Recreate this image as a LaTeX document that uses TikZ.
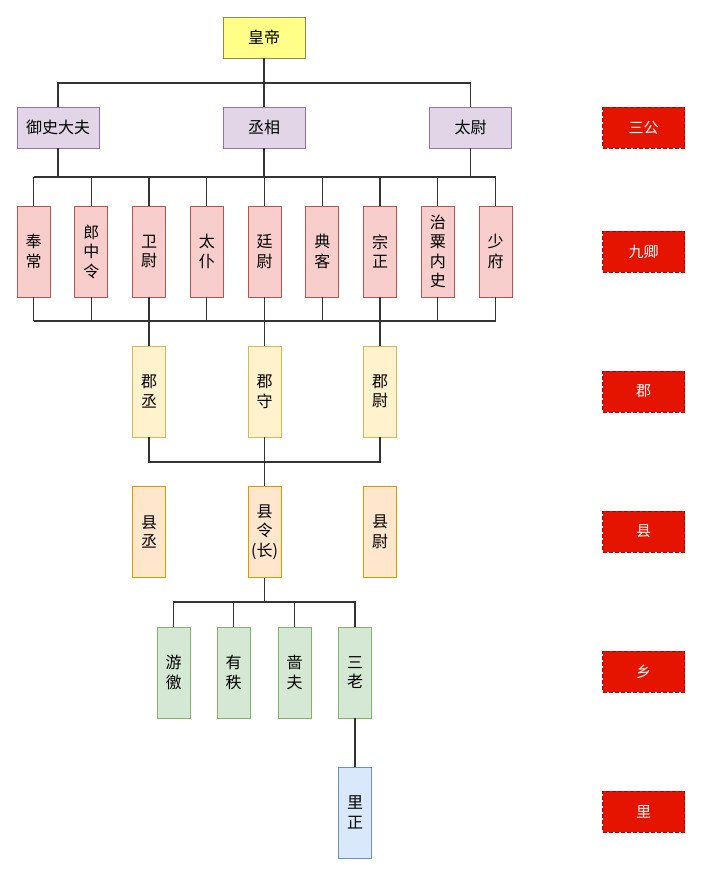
\documentclass[tikz,border=0pt]{standalone}
\usepackage{fontspec}
\setmainfont{Noto Sans CJK SC}
\usetikzlibrary{positioning}

\definecolor{empfill}{HTML}{FFFF88}
\definecolor{empdraw}{HTML}{8C8C50}
\definecolor{gongfill}{HTML}{E1D5E7}
\definecolor{gongdraw}{HTML}{9673A6}
\definecolor{qingfill}{HTML}{F8CECC}
\definecolor{qingdraw}{HTML}{B85450}
\definecolor{junfill}{HTML}{FFF2CC}
\definecolor{jundraw}{HTML}{D6B656}
\definecolor{xianfill}{HTML}{FFE6CC}
\definecolor{xiandraw}{HTML}{D79B00}
\definecolor{xiangfill}{HTML}{D5E8D4}
\definecolor{xiangdraw}{HTML}{82B366}
\definecolor{lifill}{HTML}{DAE8FC}
\definecolor{lidraw}{HTML}{6C8EBF}
\definecolor{lvlfill}{HTML}{E51400}
\definecolor{lvldraw}{HTML}{B20000}

\tikzset{
  box/.style={draw, line width=0.8pt, inner sep=0pt, align=center,
    font=\fontsize{16}{19.5}\selectfont},
  wide/.style={box, minimum width=82pt, minimum height=41pt},
  tall/.style={box, minimum width=33pt, minimum height=91pt},
  emp/.style={wide, fill=empfill, draw=empdraw},
  gong/.style={wide, fill=gongfill, draw=gongdraw},
  qing/.style={tall, fill=qingfill, draw=qingdraw},
  jun/.style={tall, fill=junfill, draw=jundraw},
  xian/.style={tall, fill=xianfill, draw=xiandraw},
  xiang/.style={tall, fill=xiangfill, draw=xiangdraw},
  li/.style={tall, fill=lifill, draw=lidraw},
  level/.style={wide, fill=lvlfill, draw=lvldraw, dash pattern=on 4pt off 2pt,
    text=white, font=\fontsize{15}{18}\selectfont},
  conn/.style={draw=black!80, line width=1.1pt}
}

\begin{document}
\begin{tikzpicture}[x=1pt, y=-1pt]
\useasboundingbox (0,0) rectangle (703,875);

% Emperor and the three excellencies
\node[emp] (hd) at (264,37.5) {皇帝};
\node[gong] (ysdf) at (58,127.5) {御史大夫};
\node[gong] (cx) at (264,127.5) {丞相};
\node[gong] (tw) at (470.5,127.5) {太尉};

% Nine ministers
\foreach \txt [count=\i] in {奉\\常, 郎\\中\\令, 卫\\尉, 太\\仆, 廷\\尉, 典\\客, 宗\\正, 治\\粟\\内\\史, 少\\府}
  \node[qing] (q\i) at ({33.5+57.75*(\i-1)},251.5) {\txt};

% Commandery
\node[jun] (jc) at (149,391.5) {郡\\丞};
\node[jun] (js) at (264.5,391.5) {郡\\守};
\node[jun] (jw) at (380,391.5) {郡\\尉};

% County
\node[xian] (xc) at (149,532) {县\\丞};
\node[xian] (xl) at (264.5,532) {县\\令\\(长)};
\node[xian] (xw) at (380,532) {县\\尉};

% Township
\node[xiang] (yj) at (173.5,672.5) {游\\徼};
\node[xiang] (yz) at (233.5,672.5) {有\\秩};
\node[xiang] (sf) at (294.5,672.5) {啬\\夫};
\node[xiang] (sl) at (355,672.5) {三\\老};

% Village
\node[li] (lz) at (355,812.5) {里\\正};

% Level labels
\foreach \txt/\y [count=\i] in {三公/127.5, 九卿/251.5, 郡/391.5, 县/531.5, 乡/671.5, 里/811.5}
  \node[level] (lv\i) at (643.5,\y) {\txt};

% Connectors
\coordinate (b1) at (264,83);
\draw[conn] (hd) -- (cx);
\draw[conn] (ysdf.north) |- (b1) -| (tw.north);

\coordinate (b2) at (0,177);
\coordinate (b3) at (0,321);
\draw[conn] (q1.north |- b2) -- (q9.north |- b2);
\draw[conn] (q1.south |- b3) -- (q9.south |- b3);
\foreach \i in {1,...,9} {
  \draw[conn] (q\i.north) -- (q\i.north |- b2);
  \draw[conn] (q\i.south) -- (q\i.south |- b3);
}
\draw[conn] (ysdf.south) -- (ysdf.south |- b2);
\draw[conn] (cx.south) -- (cx.south |- b2);
\draw[conn] (tw.south) -- (tw.south |- b2);

\draw[conn] (jc.north) -- (jc.north |- b3);
\draw[conn] (js.north) -- (js.north |- b3);
\draw[conn] (jw.north) -- (jw.north |- b3);

\coordinate (b4) at (264.5,462);
\draw[conn] (jc.south) |- (b4) -| (jw.south);
\draw[conn] (js) -- (xl);

\coordinate (b5) at (264.5,602);
\draw[conn] (xl) -- (b5);
\draw[conn] (yj.north) |- (b5) -| (sl.north);
\draw[conn] (yz.north) -- (yz.north |- b5);
\draw[conn] (sf.north) -- (sf.north |- b5);
\draw[conn] (sl) -- (lz);
\end{tikzpicture}
\end{document}
